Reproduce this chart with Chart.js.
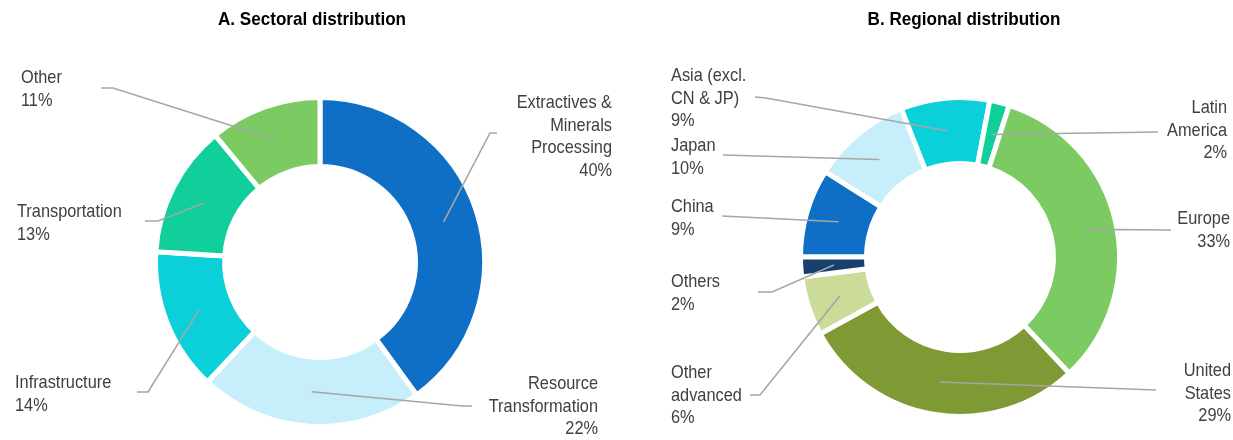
<!DOCTYPE html>
<html>
<head>
<meta charset="utf-8">
<script src="https://cdn.jsdelivr.net/npm/chart.js@4.4.1/dist/chart.umd.min.js"></script>
<style>
  html, body { margin: 0; padding: 0; background: #fff; }
  #wrap { position: relative; width: 1233px; height: 440px; }
  .box { position: absolute; top: 0; height: 440px; }
  #boxA { left: 0; width: 616px; }
  #boxB { left: 616px; width: 617px; }
</style>
</head>
<body>
<div id="wrap">
  <div class="box" id="boxA"><canvas id="chartA"></canvas></div>
  <div class="box" id="boxB"><canvas id="chartB"></canvas></div>
</div>
<script>
// panel A - by sector (share of total, %)
const sectorNames = ['Extractives &\nMinerals\nProcessing', 'Resource\nTransformation', 'Infrastructure', 'Transportation', 'Other'];
const sectorShares = [40, 22, 14, 13, 11];
const sectorColors = ['#0F6FC6', '#C6EEFB', '#0BD0D9', '#10CF9B', '#7CCA62'];

// panel B - by region (share of total, %), clockwise from 9 o'clock
const regionNames = ['China', 'Japan', 'Asia (excl.\nCN & JP)', 'Latin\nAmerica', 'Europe', 'United\nStates', 'Other\nadvanced', 'Others'];
const regionShares = [9, 10, 9, 2, 33, 29, 6, 2];
const regionColors = ['#0F6FC6', '#C6EEFB', '#0BD0D9', '#10CF9B', '#7CCA62', '#7F9934', '#CADC98', '#17406D'];

const FONT = "'Liberation Sans', Arial, sans-serif";
const NARROW = 0.86;  // no narrow face installed, so squeeze the text a bit

// where each label sits (x, first baseline, align) and the leader line bend points
const sectorLabelPos = [
    { x: 612, y: 108, align: 'right', lead: [[497, 133], [490, 133]] },
    { x: 598, y: 389, align: 'right', lead: [[472, 406], [462, 406]] },
    { x: 15, y: 388, align: 'left', lead: [[137, 392], [148, 392]] },
    { x: 17, y: 217, align: 'left', lead: [[145, 221], [158, 221]] },
    { x: 21, y: 83, align: 'left', lead: [[101, 88], [113, 88]] }
];
const regionLabelPos = [
    { x: 55, y: 212, align: 'left', lead: [[106, 216]] },
    { x: 55, y: 151, align: 'left', lead: [[107, 155]] },
    { x: 55, y: 81, align: 'left', lead: [[139, 97], [150, 98]] },
    { x: 611, y: 113, align: 'right', lead: [[542, 132]] },
    { x: 614, y: 224, align: 'right', lead: [[555, 230]] },
    { x: 615, y: 376, align: 'right', lead: [[540, 390]] },
    { x: 55, y: 378, align: 'left', lead: [[134, 395], [144, 395]] },
    { x: 55, y: 287, align: 'left', lead: [[142, 292], [156, 292]] }
];

function squeezedText(ctx, text, x, y, sx) {
    ctx.save();
    ctx.translate(x, y);
    ctx.scale(sx, 1);
    ctx.fillText(text, 0, 0);
    ctx.restore();
}

// draws panel title, leader lines and data labels
const labelPlugin = {
    id: 'pieLabels',
    afterDatasetsDraw(chart, args, opts) {
        const ctx = chart.ctx;
        const meta = chart.getDatasetMeta(0);
        const names = chart.data.labels;
        const values = chart.data.datasets[0].data;

        ctx.save();
        ctx.font = 'bold 19px ' + FONT;
        ctx.fillStyle = '#000';
        ctx.textAlign = 'center';
        ctx.textBaseline = 'alphabetic';
        squeezedText(ctx, opts.title, opts.titleX, 25, 0.9);

        ctx.strokeStyle = '#A6A6A6';
        ctx.lineWidth = 1.6;
        meta.data.forEach((arc, i) => {
            const pos = opts.positions[i];
            const end = arc.tooltipPosition();
            ctx.beginPath();
            ctx.moveTo(pos.lead[0][0], pos.lead[0][1]);
            for (let k = 1; k < pos.lead.length; k++) ctx.lineTo(pos.lead[k][0], pos.lead[k][1]);
            ctx.lineTo(end.x, end.y);
            ctx.stroke();
        });

        ctx.font = '19px ' + FONT;
        ctx.fillStyle = '#404040';
        meta.data.forEach((arc, i) => {
            const pos = opts.positions[i];
            const lines = names[i].split('\n').concat([values[i] + '%']);
            ctx.textAlign = pos.align;
            lines.forEach((t, j) => squeezedText(ctx, t, pos.x, pos.y + j * 22.5, NARROW));
        });
        ctx.restore();
    }
};

function makeDonut(canvasId, names, shares, colors, rotation, cutout, padding, plugOpts) {
    return new Chart(document.getElementById(canvasId), {
        type: 'doughnut',
        data: {
            labels: names,
            datasets: [{
                data: shares,
                backgroundColor: colors,
                borderColor: '#ffffff',
                borderWidth: 5
            }]
        },
        options: {
            responsive: true,
            maintainAspectRatio: false,
            animation: false,
            rotation: rotation,
            cutout: cutout,
            layout: { padding: padding },
            plugins: {
                legend: { display: false },
                tooltip: { enabled: false },
                pieLabels: plugOpts
            }
        },
        plugins: [labelPlugin]
    });
}

makeDonut('chartA', sectorNames, sectorShares, sectorColors, 0, '58%',
    { left: 153, right: 129, top: 95, bottom: 11 },
    { title: 'A. Sectoral distribution', titleX: 312, positions: sectorLabelPos });

makeDonut('chartB', regionNames, regionShares, regionColors, -90, '58.6%',
    { left: 182, right: 111, top: 95, bottom: 21 },
    { title: 'B. Regional distribution', titleX: 348, positions: regionLabelPos });
</script>
</body>
</html>
